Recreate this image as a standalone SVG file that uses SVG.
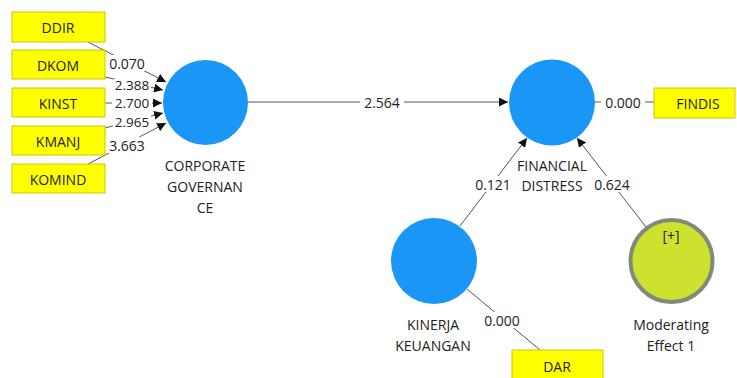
<svg xmlns="http://www.w3.org/2000/svg" width="737" height="378" viewBox="0 0 737 378">
<defs>
<marker id="arr" viewBox="0 0 10 10" refX="10" refY="5" markerWidth="9" markerHeight="9" markerUnits="userSpaceOnUse" orient="auto">
<path d="M0,0 L10,5 L0,10 z" fill="#111"/>
</marker>
<style>
text{font-family:"Open Sans","Noto Sans","Liberation Sans",sans-serif;font-size:14px;fill:#222;text-anchor:middle;dominant-baseline:central}
.sm{font-size:13.5px}
.box{fill:#ffff00;stroke:#c8c800;stroke-width:1}
.lv{fill:#1a96f7}
.mod{fill:#cde22e;stroke:#7f8c7a;stroke-width:4}
.ln{stroke:#555;stroke-width:1;fill:none}
.la{stroke:#555;stroke-width:1;fill:none;marker-end:url(#arr)}
.bg{fill:#fff}
</style>
</defs>
<rect width="737" height="378" fill="#fff"/>
<g id="connectors">
<line class="la" x1="88" y1="42" x2="166" y2="82"/>
<line class="la" x1="105" y1="77" x2="163" y2="90"/>
<line class="la" x1="105" y1="103" x2="162" y2="103"/>
<line class="la" x1="105" y1="128" x2="163" y2="113"/>
<line class="la" x1="88" y1="164" x2="166" y2="123"/>
<line class="la" x1="248" y1="102" x2="508" y2="102"/>
<line class="ln" x1="595" y1="102" x2="654" y2="102"/>
<line class="la" x1="460" y1="226" x2="527" y2="138"/>
<line class="la" x1="646" y1="227" x2="577" y2="138"/>
<line class="ln" x1="467" y1="289" x2="540" y2="350"/>
<rect class="bg" x="107" y="55" width="40" height="16"/>
<text x="127" y="63">0.070</text>
<rect class="bg" x="114" y="79" width="37" height="14"/>
<text class="sm" x="132" y="85">2.388</text>
<rect class="bg" x="112" y="96" width="40" height="14"/>
<text class="sm" x="132" y="103">2.700</text>
<rect class="bg" x="113" y="115" width="38" height="14"/>
<text class="sm" x="132" y="121.5">2.965</text>
<rect class="bg" x="107" y="137" width="40" height="16"/>
<text x="127" y="145">3.663</text>
<rect class="bg" x="360" y="94" width="44" height="16"/>
<text x="382" y="102">2.564</text>
<rect class="bg" x="601" y="94" width="44" height="16"/>
<text x="623" y="102">0.000</text>
<rect class="bg" x="473" y="176" width="40" height="16"/>
<text x="493" y="184">0.121</text>
<rect class="bg" x="592" y="176" width="40" height="16"/>
<text x="612" y="184">0.624</text>
<rect class="bg" x="482" y="312" width="40" height="16"/>
<text x="502" y="320">0.000</text>
</g>
<g id="DDIR"><rect class="box" x="12" y="12" width="93" height="30"/><text x="58" y="27">DDIR</text></g>
<g id="DKOM"><rect class="box" x="12" y="50" width="93" height="29"/><text x="58" y="65">DKOM</text></g>
<g id="KINST"><rect class="box" x="12" y="88" width="93" height="29"/><text x="58" y="103">KINST</text></g>
<g id="KMANJ"><rect class="box" x="12" y="126" width="93" height="29"/><text x="58" y="141">KMANJ</text></g>
<g id="KOMIND"><rect class="box" x="12" y="164" width="93" height="29"/><text x="58" y="179">KOMIND</text></g>
<g id="CG"><circle class="lv" cx="205.5" cy="102.5" r="42.5"/><text x="205" y="165">CORPORATE</text><text x="205" y="186">GOVERNAN</text><text x="205" y="207">CE</text></g>
<g id="FD"><circle class="lv" cx="552" cy="102.5" r="43"/><text x="552" y="165">FINANCIAL</text><text x="552" y="185">DISTRESS</text></g>
<g id="FINDIS"><rect class="box" x="654" y="88" width="81" height="30"/><text x="698" y="103">FINDIS</text></g>
<g id="KK"><circle class="lv" cx="434" cy="261" r="43"/><text x="433" y="324">KINERJA</text><text x="433" y="345">KEUANGAN</text></g>
<g id="MOD"><circle class="mod" cx="671.5" cy="261" r="41"/><text x="671" y="235">[+]</text><text x="671" y="324">Moderating</text><text x="671" y="345">Effect 1</text></g>
<g id="DAR"><rect class="box" x="512" y="350" width="91" height="30"/><text x="557" y="366">DAR</text></g>
</svg>
